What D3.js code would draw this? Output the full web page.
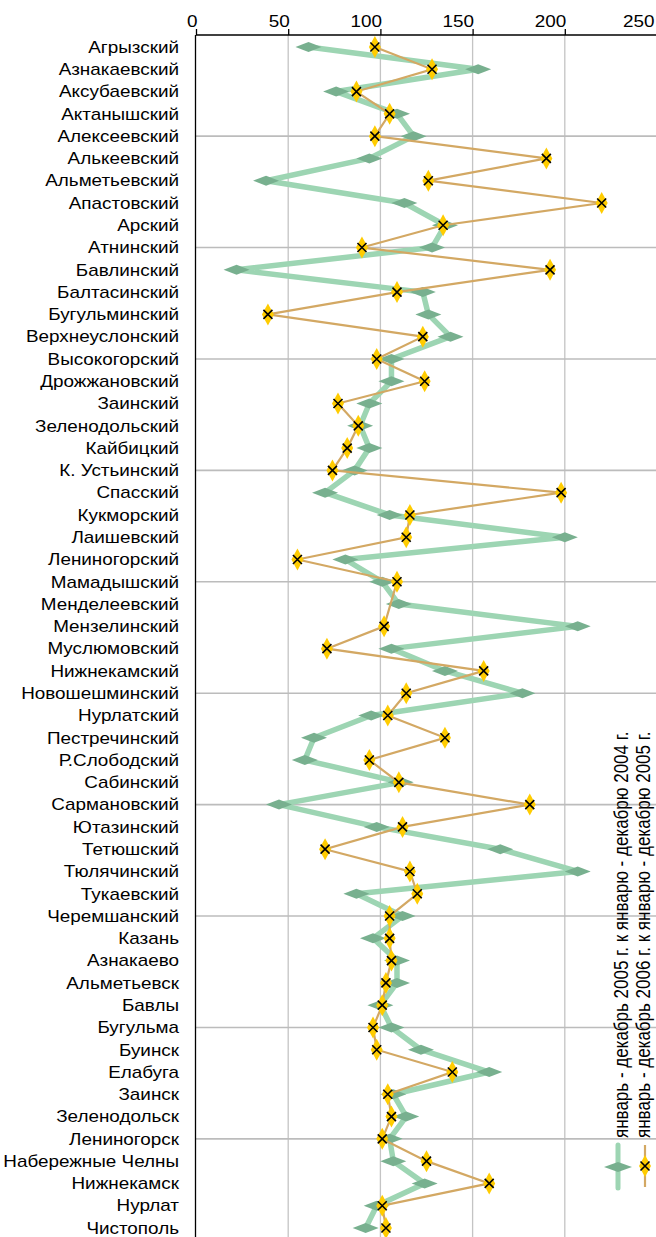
<!DOCTYPE html>
<html>
<head>
<meta charset="utf-8">
<script src="https://cdn.jsdelivr.net/npm/d3@7"></script>
<style>
  body { margin: 0; background: #fff; }
  svg { display: block; font-family: "Liberation Sans", Arial, sans-serif; }
</style>
</head>
<body>
<div id="chart"></div>
<script>
// categories (districts and cities)
const districts = ["Агрызский", "Азнакаевский", "Аксубаевский", "Актанышский", "Алексеевский",
  "Алькеевский", "Альметьевский", "Апастовский", "Арский", "Атнинский",
  "Бавлинский", "Балтасинский", "Бугульминский", "Верхнеуслонский", "Высокогорский",
  "Дрожжановский", "Заинский", "Зеленодольский", "Кайбицкий", "К. Устьинский",
  "Спасский", "Кукморский", "Лаишевский", "Лениногорский", "Мамадышский",
  "Менделеевский", "Мензелинский", "Муслюмовский", "Нижнекамский", "Новошешминский",
  "Нурлатский", "Пестречинский", "Р.Слободский", "Сабинский", "Сармановский",
  "Ютазинский", "Тетюшский", "Тюлячинский", "Тукаевский", "Черемшанский",
  "Казань", "Азнакаево", "Альметьевск", "Бавлы", "Бугульма",
  "Буинск", "Елабуга", "Заинск", "Зеленодольск", "Лениногорск",
  "Набережные Челны", "Нижнекамск", "Нурлат", "Чистополь"];

// январь - декабрь 2005 г. к январю - декабрю 2004 г.
const values2005 = [61, 153, 76, 109, 118, 94, 38, 113, 135, 128,
  22, 123, 126, 138, 106, 106, 94, 89, 94, 86,
  70, 105, 200, 81, 101, 110, 207, 106, 135, 177,
  95, 64, 59, 111, 45, 98, 165, 207, 87, 112,
  96, 109, 109, 100, 106, 122, 159, 107, 114, 105,
  107, 124, 98, 92];

// январь - декабрь 2006 г. к январю - декабрю 2005 г. (null = no value)
const values2006 = [97, 128, 87, 105, 97, 190, 126, 220, 134, 90,
  192, 109, 39, 123, 98, 124, 77, 88, 82, 74,
  198, 116, 114, 55, 109, null, 102, 71, 156, 114,
  104, 135, 94, 110, 181, 112, 70, 116, 120, 105,
  105, 106, 103, 101, 96, 98, 139, 104, 106, 101,
  125, 159, 101, 103];

const xTicks = [0, 50, 100, 150, 200, 250];
const legendLabels = ["январь - декабрь 2005 г. к январю - декабрю 2004 г.",
  "январь - декабрь 2006 г. к январю - декабрю 2005 г."];

const width = 656, height = 1237;
const stretch = 1.18; // text in the original is a bit wider than normal

const svg = d3.select("#chart")
  .append("svg")
  .attr("width", width)
  .attr("height", height);

const x = d3.scaleLinear().domain([0, 250]).range([196, 657]);
const y = d3.scalePoint().domain(districts).range([47, 1228]);

// vertical gridlines
svg.append("g")
  .selectAll("line")
  .data(xTicks.filter(d => d > 0))
  .join("line")
    .attr("x1", d => x(d)).attr("x2", d => x(d))
    .attr("y1", 35).attr("y2", height)
    .attr("stroke", "#c4c4c4")
    .attr("stroke-width", 1.3);

// horizontal gridlines every fifth row
svg.append("g")
  .selectAll("line")
  .data(districts.filter((d, i) => i % 5 === 4))
  .join("line")
    .attr("x1", x(0)).attr("x2", width)
    .attr("y1", d => y(d)).attr("y2", d => y(d))
    .attr("stroke", "#bcbcbc")
    .attr("stroke-width", 1.6);

// top axis
const xAxis = svg.append("g")
  .attr("transform", "translate(0,35)")
  .call(d3.axisTop(x).tickValues(xTicks).tickSize(6).tickSizeOuter(0));
xAxis.select(".domain").attr("stroke", "#000").attr("stroke-width", 1.3)
  .attr("d", `M${x(0)},0H${width}`);
xAxis.selectAll(".tick line").attr("stroke", "#000").attr("stroke-width", 1.3);
xAxis.selectAll(".tick text")
  .attr("text-anchor", "end")
  .attr("x", 0)
  .attr("y", 0)
  .attr("dy", 0)
  .attr("transform", d => `translate(${d === 250 ? -3 : 1},-8.5) scale(${stretch},1)`)
  .style("font-size", "16px")
  .attr("fill", "#000");

// left axis line and labels
svg.append("line")
  .attr("x1", x(0) - 0.5).attr("x2", x(0) - 0.5)
  .attr("y1", 35).attr("y2", height)
  .attr("stroke", "#000")
  .attr("stroke-width", 1.3);

svg.append("g")
  .selectAll("text")
  .data(districts)
  .join("text")
    .attr("transform", d => `translate(179,${y(d)}) scale(${stretch},1)`)
    .attr("dy", "0.36em")
    .attr("text-anchor", "end")
    .style("font-size", "16px")
    .text(d => d);

// series 2005
const green = values2005.map((v, i) => ({ name: districts[i], v }));
svg.append("path")
  .datum(green)
  .attr("fill", "none")
  .attr("stroke", "#9dd5b3")
  .attr("stroke-width", 5.5)
  .attr("stroke-linejoin", "round")
  .attr("d", d3.line().x(d => x(d.v)).y(d => y(d.name)));

const hDiamond = "M-13,0L0,-5L13,0L0,5Z";
svg.append("g")
  .selectAll("path")
  .data(green)
  .join("path")
    .attr("transform", d => `translate(${x(d.v)},${y(d.name)})`)
    .attr("d", hDiamond)
    .attr("fill", "#78b08f");

// series 2006
const gold = values2006.map((v, i) => ({ name: districts[i], v })).filter(d => d.v != null);
svg.append("path")
  .datum(gold)
  .attr("fill", "none")
  .attr("stroke", "#d3a863")
  .attr("stroke-width", 2.2)
  .attr("d", d3.line().x(d => x(d.v)).y(d => y(d.name)));

const vDiamond = "M0,-11L6,0L0,11L-6,0Z";
const crossPath = "M-4.5,-4.5L4.5,4.5M-4.5,4.5L4.5,-4.5";
const goldMarks = svg.append("g")
  .selectAll("g")
  .data(gold)
  .join("g")
    .attr("transform", d => `translate(${x(d.v)},${y(d.name)})`);
goldMarks.append("path").attr("d", vDiamond).attr("fill", "#ffcc00");
goldMarks.append("path").attr("d", crossPath).attr("stroke", "#000").attr("stroke-width", 1.6);

// legend
const lg = svg.append("g");
lg.append("line")
  .attr("x1", 618).attr("x2", 618).attr("y1", 1145).attr("y2", 1188)
  .attr("stroke", "#9dd5b3").attr("stroke-width", 5).attr("stroke-linecap", "round");
lg.append("path")
  .attr("transform", "translate(618,1167)")
  .attr("d", "M-14,0L0,-5L14,0L0,5Z")
  .attr("fill", "#78b08f");
lg.append("line")
  .attr("x1", 645).attr("x2", 645).attr("y1", 1145).attr("y2", 1187)
  .attr("stroke", "#d3a863").attr("stroke-width", 2.2);
lg.append("path")
  .attr("transform", "translate(645,1166)")
  .attr("d", vDiamond)
  .attr("fill", "#ffcc00");
lg.append("path")
  .attr("transform", "translate(645,1166)")
  .attr("d", crossPath)
  .attr("stroke", "#000").attr("stroke-width", 1.6);

lg.selectAll("text")
  .data(legendLabels)
  .join("text")
    .attr("transform", (d, i) => `translate(${i === 0 ? 628 : 650},1138) rotate(-90) scale(1,${stretch})`)
    .style("font-size", "17px")
    .text(d => d);
</script>
</body>
</html>
